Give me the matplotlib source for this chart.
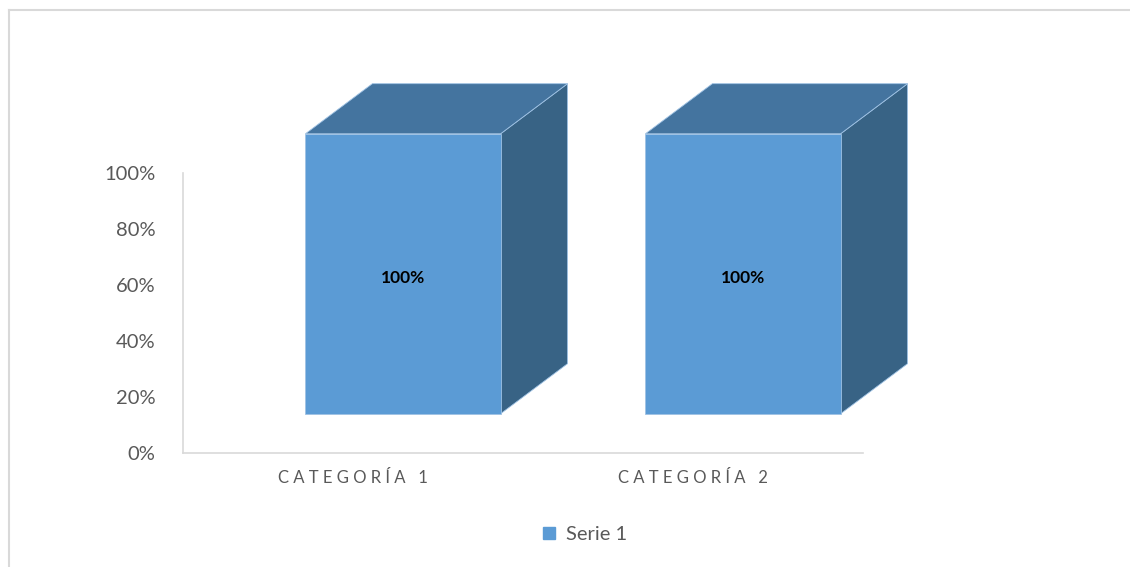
import matplotlib.pyplot as plt
from matplotlib.patches import Polygon
from matplotlib.lines import Line2D

categories = ['CATEGORÍA 1', 'CATEGORÍA 2']
values = [1.0, 1.0]
series_name = 'Serie 1'
yticks = [0, 0.2, 0.4, 0.6, 0.8, 1.0]
ytick_labels = ['0%', '20%', '40%', '60%', '80%', '100%']

plt.rcParams['font.family'] = ['Lato', 'DejaVu Sans']

front_c = '#5b9bd5'
top_c = '#44749f'
side_c = '#386385'
edge_c = '#9fc2e4'

fig = plt.figure(figsize=(11.30, 5.67), dpi=100)
ax = fig.add_axes([183 / 1130, 114 / 567, 680 / 1130, 280 / 567])
ax.set_xlim(0, len(categories))
ax.set_ylim(0, 1)

# faux 3d offsets (data units)
off_x = 0.36
width = 0.574
base = 0.14
dx = 0.197
dy = 0.179

for i, v in enumerate(values):
    x0 = i + off_x
    x1 = x0 + width
    y0 = base
    y1 = base + v
    front = [(x0, y0), (x1, y0), (x1, y1), (x0, y1)]
    top = [(x0, y1), (x1, y1), (x1 + dx, y1 + dy), (x0 + dx, y1 + dy)]
    side = [(x1, y0), (x1 + dx, y0 + dy), (x1 + dx, y1 + dy), (x1, y1)]
    for pts, c in [(side, side_c), (top, top_c), (front, front_c)]:
        ax.add_patch(Polygon(pts, closed=True, facecolor=c, edgecolor=edge_c,
                             linewidth=0.6, clip_on=False, zorder=3))
    ax.text((x0 + x1) / 2, (y0 + y1) / 2 - 0.015, '{:.0%}'.format(v), ha='center', va='center',
            fontsize=12.5, fontweight='bold', color='black', zorder=4)

ax.set_yticks(yticks)
ax.set_yticklabels(ytick_labels)
ax.set_xticks([i + 0.5 for i in range(len(categories))])
ax.set_xticklabels([' '.join(c) for c in categories])
ax.tick_params(axis='y', length=0, pad=20, labelsize=14.5, labelcolor='#595959')
ax.tick_params(axis='x', length=0, pad=12, labelsize=12, labelcolor='#595959')
for s in ['top', 'right']:
    ax.spines[s].set_visible(False)
for s in ['left', 'bottom']:
    ax.spines[s].set_color('#d9d9d9')
    ax.spines[s].set_linewidth(1.2)

handle = Line2D([], [], marker='s', linestyle='none', markersize=9,
                markerfacecolor=front_c, markeredgecolor=front_c)
fig.legend([handle], [series_name], loc='center', bbox_to_anchor=(578 / 1130, 1 - 534 / 567),
           frameon=False, fontsize=14.5, handletextpad=-0.2, labelcolor='#595959')

# chart area border
fig.add_artist(Line2D([9 / 1130, 1], [1 - 10 / 567, 1 - 10 / 567], color='#d9d9d9', lw=1.5))
fig.add_artist(Line2D([9 / 1130, 9 / 1130], [0, 1 - 10 / 567], color='#d9d9d9', lw=1.5))

fig.savefig('out.png', dpi=100)
